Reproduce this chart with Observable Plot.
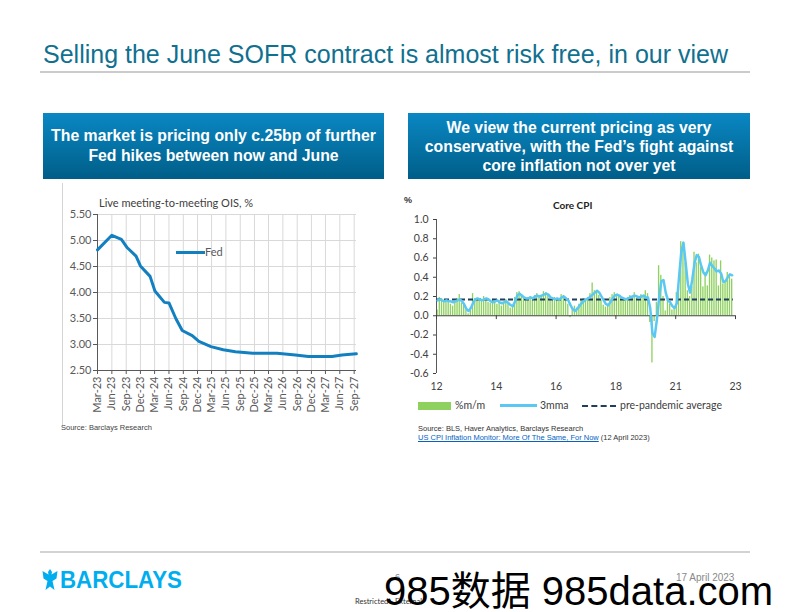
<!DOCTYPE html>
<html><head><meta charset="utf-8">
<script src="https://cdn.jsdelivr.net/npm/d3@7"></script>
<script src="https://cdn.jsdelivr.net/npm/@observablehq/plot@0.6"></script>
<style>
body{margin:0;width:792px;height:612px;position:relative;background:#fff;font-family:"Liberation Sans",Arial,sans-serif;overflow:hidden}
.a{position:absolute;white-space:nowrap}
.box{position:absolute;display:flex;align-items:center;justify-content:center;text-align:center;color:#fff;font-weight:bold;font-size:15.8px;background:linear-gradient(#0a87c3,#005e88)}
.lato{font-family:Lato,"Noto Sans",sans-serif}
</style></head><body>
<div class="a" style="left:43px;top:40px;font-size:25px;color:#10708f;line-height:28px">Selling the June SOFR contract is almost risk free, in our view</div>
<div class="a" style="left:40px;top:71px;width:710px;height:2px;background:#cbcbcb"></div>
<div class="box" style="left:43px;top:113px;width:341px;height:66px;line-height:20px">The market is pricing only c.25bp of further<br>Fed hikes between now and June</div>
<div class="box" style="left:408px;top:113px;width:342px;height:66px;line-height:19px">We view the current pricing as very<br>conservative, with the Fed’s fight against<br>core inflation not over yet</div>

<div class="a" style="left:62px;top:183px;width:1px;height:242px;background:#d4d4d4"></div>
<div class="a lato" style="left:99px;top:196px;font-size:11px;color:#404040">Live meeting-to-meeting OIS, %</div>
<div id="left" class="a" style="left:62px;top:190px"></div>
<div class="a" style="left:176px;top:251px;width:29px;height:3px;background:#1280c0"></div>
<div class="a lato" style="left:205px;top:245px;font-size:11px;color:#595959">Fed</div>
<div class="a" style="left:61px;top:423px;font-size:7.5px;color:#444">Source: Barclays Research</div>

<div class="a" style="left:404px;top:195px;font-size:9px;font-weight:bold;color:#333">%</div>
<div class="a lato" style="left:553px;top:199px;font-size:10px;font-weight:bold;color:#222">Core CPI</div>
<div id="right" class="a" style="left:400px;top:195px"></div>
<div class="a" style="left:418px;top:402px;width:33px;height:8px;background:#8fd15f"></div>
<div class="a lato" style="left:455px;top:399px;font-size:10.5px;color:#404040">%m/m</div>
<div class="a" style="left:500px;top:404px;width:37px;height:3px;background:#5ac8f2"></div>
<div class="a lato" style="left:540px;top:399px;font-size:10.5px;color:#404040">3mma</div>
<div class="a" style="left:582px;top:405px;width:34px;height:0;border-top:2.5px dashed #1f3f5f"></div>
<div class="a lato" style="left:620px;top:399px;font-size:10.5px;color:#404040">pre-pandemic average</div>
<div class="a" style="left:418px;top:424px;font-size:7.5px;color:#333;line-height:9px">Source: BLS, Haver Analytics, Barclays Research<br><span style="color:#0563c1;text-decoration:underline">US CPI Inflation Monitor: More Of The Same, For Now</span> (12 April 2023)</div>

<div class="a" style="left:40px;top:551px;width:710px;height:2px;background:#d3d3d3"></div>
<svg class="a" style="left:42px;top:569px" width="16" height="23" viewBox="0 0 16 23"><path fill="#00aeef" d="M8 0 L10 3 L9.5 5.5 L15.5 2 L14.5 9.5 L10.5 12 L12.5 21 L8 17.5 L3.5 21 L5.5 12 L1.5 9.5 L0.5 2 L6.5 5.5 L6 3 Z"/></svg>
<div class="a" style="left:60px;top:566px;font-size:24px;font-weight:bold;color:#00aeef;transform:scaleX(0.93);transform-origin:left top">BARCLAYS</div>
<div class="a" style="left:395px;top:572px;font-size:9px;color:#888">6</div>
<div class="a lato" style="left:355px;top:597px;font-size:7.5px;color:#333">Restricted - External</div>
<div class="a" style="left:676px;top:572px;font-size:10px;color:#888">17 April 2023</div>
<div class="a" style="left:384px;top:559px;font-size:40px;color:#000;font-family:'Liberation Sans','Noto Sans CJK SC',sans-serif">985数据 985data.com</div>

<script>
// ---- Left chart: live meeting-to-meeting OIS (Fed), % ----
const oisDates = ["2023-03-01","2023-06-01","2023-08-01","2023-09-08","2023-11-03","2023-12-01","2024-02-01","2024-03-03","2024-05-03","2024-06-01","2024-07-15","2024-08-25","2024-10-28","2024-12-10","2025-02-25","2025-05-15","2025-08-01","2025-11-20","2026-04-25","2026-08-20","2026-11-12","2027-04-12","2027-06-15","2027-09-15"];
const oisFed = [4.82,5.10,5.02,4.86,4.70,4.51,4.31,4.03,3.81,3.80,3.50,3.27,3.17,3.06,2.96,2.90,2.86,2.83,2.83,2.80,2.77,2.77,2.80,2.82];
const oisTickLabels = ["Mar-23","Jun-23","Sep-23","Dec-23","Mar-24","Jun-24","Sep-24","Dec-24","Mar-25","Jun-25","Sep-25","Dec-25","Mar-26","Jun-26","Sep-26","Dec-26","Mar-27","Jun-27","Sep-27"];
const oisYTicks = [2.5,3.0,3.5,4.0,4.5,5.0,5.5];

// ---- Right chart: Core CPI, % m/m, Jan 2012 onward ----
const cpiStart = "2012-01";
const coreMoM = [
0.06,0.19,0.18,0.16,0.17,0.15,0.12,0.10,0.14,0.18,0.22,0.13,
0.11,0.06,0.02,0.08,0.23,0.18,0.16,0.15,0.17,0.20,0.16,0.14,
0.13,0.17,0.15,0.12,0.16,0.10,0.14,0.17,0.12,0.08,0.09,0.19,
0.24,0.25,0.20,0.18,0.17,0.19,0.20,0.16,0.21,0.23,0.19,0.20,
0.25,0.24,0.21,0.17,0.16,0.19,0.18,0.15,0.22,0.21,0.17,0.12,
-0.02,0.06,0.10,0.08,0.12,0.16,0.18,0.17,0.19,0.23,0.34,0.26,
0.25,0.21,0.16,0.11,0.09,0.12,0.19,0.22,0.24,0.20,0.21,0.17,
0.16,0.18,0.19,0.21,0.20,0.24,0.18,0.17,0.22,0.20,0.26,0.23,
-0.07,-0.49,-0.06,0.14,0.52,0.42,0.20,0.05,0.20,0.12,0.06,0.07,
0.24,0.30,0.77,0.76,0.55,0.26,0.20,0.30,0.66,0.55,0.64,0.50,
0.30,0.45,0.31,0.63,0.60,0.57,0.58,0.31,0.57,0.33,0.36,0.45,0.41,0.38];
const core3mma = [
0.16,0.17,0.16,0.15,0.16,0.15,
0.15,0.14,0.15,0.16,0.17,
0.15,0.12,0.07,0.05,0.08,0.13,
0.17,0.18,0.17,0.16,0.17,0.18,
0.17,0.15,0.14,0.15,0.16,0.14,
0.13,0.14,0.15,0.13,0.11,0.10,
0.15,0.21,0.23,0.21,0.19,0.18,
0.18,0.19,0.18,0.20,0.21,0.20,
0.21,0.22,0.23,0.22,0.19,0.18,
0.17,0.18,0.17,0.19,0.20,0.18,
0.16,0.11,0.07,0.05,0.07,0.10,
0.13,0.15,0.17,0.18,0.20,0.22,
0.24,0.26,0.24,0.20,0.16,0.12,
0.11,0.14,0.18,0.21,0.22,0.21,
0.19,0.18,0.17,0.18,0.19,0.20,
0.21,0.20,0.19,0.20,0.21,0.19,
0.19,0.08,-0.18,-0.22,-0.04,0.18,0.36,0.37,0.24,0.16,0.14,0.10,0.08,
0.13,0.40,0.66,0.76,0.55,0.33,0.24,0.38,0.55,0.63,0.61,0.52,
0.45,0.42,0.47,0.55,0.52,0.49,0.46,0.47,0.44,0.35,0.36,0.40,0.43,0.42];
const prePandemicAvg = [0.17];
const cpiTickMonths = ["2012-01","2014-04","2016-07","2018-10","2021-01","2023-04"];
const cpiTickLabels = ["12","14","16","18","21","23"];
const cpiYTicks = [-0.6,-0.4,-0.2,0.0,0.2,0.4,0.6,0.8,1.0];

// ---- build ----
const pd = d3.utcParse("%Y-%m-%d");
const pm = d3.utcParse("%Y-%m");
const tp = d3.utcParse("%b-%y");
const fedData = oisDates.map((d,i)=>({date: pd(d), v: oisFed[i]}));
const oisTickDates = oisTickLabels.map(tp);
const oisEnd = d3.utcDay.offset(oisTickDates[oisTickDates.length-1], 15);

const leftPlot = Plot.plot({
  width: 305, height: 235,
  marginLeft: 35, marginRight: 11, marginTop: 24, marginBottom: 55,
  style: {fontFamily: "Lato, 'Noto Sans', sans-serif", fontSize: "11px", color: "#595959", background: "transparent", overflow: "visible"},
  x: {type: "utc", domain: [oisTickDates[0], oisEnd]},
  y: {domain: [2.5, 5.5]},
  marks: [
    Plot.gridX(oisTickDates, {stroke: "#d9d9d9", strokeOpacity: 1}),
    Plot.gridY(oisYTicks, {stroke: "#d9d9d9", strokeOpacity: 1}),
    Plot.ruleX([oisTickDates[0]], {stroke: "#595959"}),
    Plot.ruleY([2.5], {stroke: "#595959"}),
    Plot.axisY({ticks: oisYTicks, tickFormat: d => d.toFixed(2), tickSize: 4, tickPadding: 2, label: null}),
    Plot.axisX({ticks: oisTickDates, tickFormat: d3.utcFormat("%b-%y"), tickRotate: -90, tickSize: 4, tickPadding: 2, label: null}),
    Plot.line(fedData, {x: "date", y: "v", stroke: "#1280c0", strokeWidth: 3})
  ]
});
document.getElementById("left").appendChild(leftPlot);

const start = pm(cpiStart);
const idxOf = s => d3.utcMonth.count(start, pm(s));
const tickIdx = cpiTickMonths.map(idxOf);
const nMonths = tickIdx[tickIdx.length-1];
const bars = coreMoM.map((v,i)=>({i, v}));
const ma = core3mma.map((v,i)=>({i, v}));

const rightPlot = Plot.plot({
  width: 345, height: 200,
  marginLeft: 36, marginRight: 10, marginTop: 24, marginBottom: 22,
  style: {fontFamily: "Lato, 'Noto Sans', sans-serif", fontSize: "10.5px", color: "#404040", background: "transparent", overflow: "visible"},
  x: {domain: [0, nMonths]},
  y: {domain: [-0.6, 1.0]},
  marks: [
    Plot.rect(bars, {x1: d => d.i + 0.2, x2: d => d.i + 0.8, y1: 0, y2: "v", fill: "#8fd15f"}),
    Plot.ruleX([0], {stroke: "#595959"}),
    Plot.ruleY([0], {stroke: "#404040", strokeWidth: 1.2}),
    Plot.ruleX(tickIdx, {x: d => d, y1: 0, y2: -0.04, stroke: "#404040"}),
    Plot.axisY({ticks: cpiYTicks, tickFormat: d => d.toFixed(1), tickSize: 3, tickPadding: 5, label: null}),
    Plot.axisX({ticks: tickIdx, tickFormat: (d, i) => cpiTickLabels[i], tickSize: 0, tickPadding: 9, label: null}),
    Plot.ruleY(prePandemicAvg, {x1: 0, x2: coreMoM.length, stroke: "#1f3f5f", strokeDasharray: "5,3", strokeWidth: 2}),
    Plot.line(ma, {x: d => d.i + 0.5, y: "v", stroke: "#5ac8f2", strokeWidth: 2.5})
  ]
});
document.getElementById("right").appendChild(rightPlot);
</script>
</body></html>
